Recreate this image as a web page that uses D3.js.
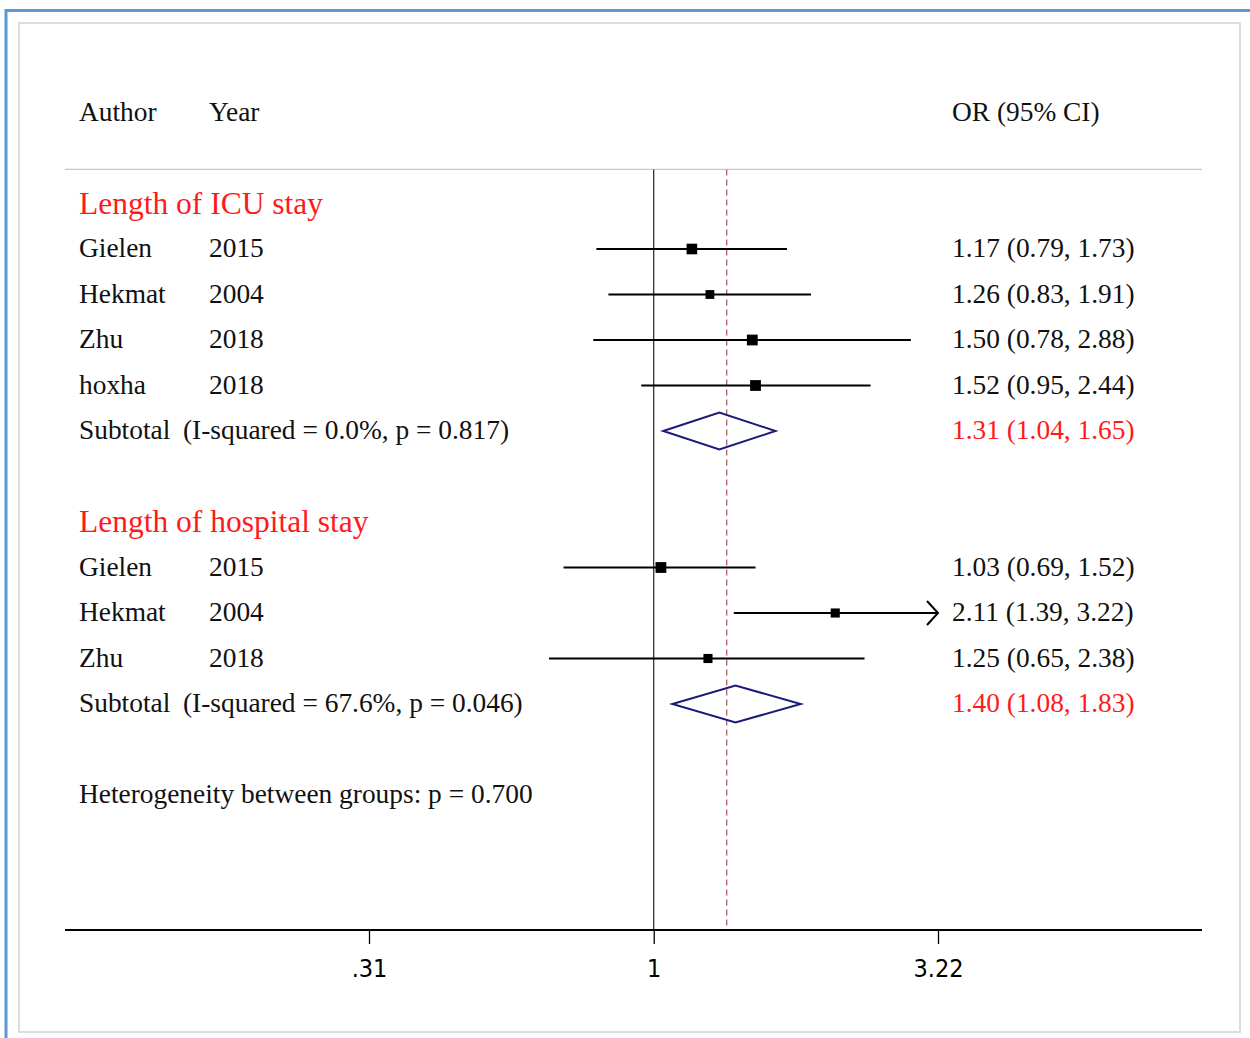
<!DOCTYPE html>
<html>
<head>
<meta charset="utf-8">
<script src="https://cdn.jsdelivr.net/npm/d3@7"></script>
<style>
  html, body { margin: 0; padding: 0; background: #fff; }
  svg { display: block; }
  .serif { font-family: "Liberation Serif", "DejaVu Serif", serif; }
  .tick text { font-family: "Liberation Sans Narrow", "DejaVu Sans Condensed", "Liberation Sans", sans-serif; }
</style>
</head>
<body>
<svg id="chart" width="1250" height="1038"></svg>
<script>
// ---- data ----
const groupTitles = ["Length of ICU stay", "Length of hospital stay"];

const authors = ["Gielen", "Hekmat", "Zhu", "hoxha", "Gielen", "Hekmat", "Zhu"];
const years   = [2015, 2004, 2018, 2018, 2015, 2004, 2018];
const groupOf = [0, 0, 0, 0, 1, 1, 1];
const orValues = [1.17, 1.26, 1.50, 1.52, 1.03, 2.11, 1.25];
const ciLower  = [0.79, 0.83, 0.78, 0.95, 0.69, 1.39, 0.65];
const ciUpper  = [1.73, 1.91, 2.88, 2.44, 1.52, 3.22, 2.38];
const weights  = [16.0, 11.0, 16.5, 16.5, 16.5, 11.75, 11.75]; // % weight, sets box area

const subtotalOR    = [1.31, 1.40];
const subtotalLower = [1.04, 1.08];
const subtotalUpper = [1.65, 1.83];
const subtotalI2    = ["0.0%", "67.6%"];
const subtotalP     = ["0.817", "0.046"];

const overallOR = 1.35;
const heterogeneityP = "0.700";

const tickValues = [0.31, 1, 3.22];
const tickLabels = [".31", "1", "3.22"];

// ---- layout ----
const svg = d3.select("#chart");
const W = 1250, H = 1038;

const x = d3.scaleLog().domain([0.31, 3.22]).range([369, 938]);
const row = d3.scaleLinear().domain([0, 12]).range([249, 795]);
const box = d3.scaleSqrt().domain([0, d3.max(weights)]).range([0, 10.8]);
const fmt = d3.format(".2f");

const plotLeft = 65, plotRight = 1202;
const axisY = 930;
const colAuthor = 79, colYear = 209, colSubStats = 183, colEst = 952;
const textDy = 8;
const red = "#ff1a1a";
const bodySize = 27.4, headSize = 31.5;

// page frame
svg.append("rect").attr("x", 19).attr("y", 23).attr("width", 1221).attr("height", 1009)
  .attr("fill", "#fff").attr("stroke", "#dcdcdc").attr("stroke-width", 2);
svg.append("line").attr("x1", 6).attr("x2", 6).attr("y1", 9).attr("y2", H)
  .attr("stroke", "#5b9bd5").attr("stroke-width", 3);
svg.append("line").attr("x1", 5).attr("x2", W).attr("y1", 10.5).attr("y2", 10.5)
  .attr("stroke", "#5b9bd5").attr("stroke-width", 3);

// row positions: header at -3, group headings, studies, subtotals
const studyRow = [0, 1, 2, 3, 7, 8, 9];
const headingRow = [-1, 6];
const subtotalRow = [4, 10];
const heteroRow = 12;
const headerRow = -3;
const headerLineY = row(-1.75);

const g = svg.append("g");
const t = g.append("g").attr("class", "serif");

// column headers
const hdr = t.append("g").attr("font-size", bodySize).attr("fill", "#111");
hdr.append("text").attr("x", colAuthor).attr("y", row(headerRow) + textDy).text("Author");
hdr.append("text").attr("x", colYear).attr("y", row(headerRow) + textDy).text("Year");
hdr.append("text").attr("x", colEst).attr("y", row(headerRow) + textDy).text("OR (95% CI)");

// header rule
g.append("line").attr("x1", plotLeft).attr("x2", plotRight)
  .attr("y1", headerLineY).attr("y2", headerLineY)
  .attr("stroke", "#c8c8c8").attr("stroke-width", 1.2);

// null line at OR = 1
g.append("line").attr("x1", x(1)).attr("x2", x(1))
  .attr("y1", headerLineY).attr("y2", axisY)
  .attr("stroke", "#222").attr("stroke-width", 1.2);

// overall estimate (dashed)
g.append("line").attr("x1", x(overallOR)).attr("x2", x(overallOR))
  .attr("y1", headerLineY).attr("y2", axisY)
  .attr("stroke", "#b0606a").attr("stroke-width", 1.3)
  .attr("stroke-dasharray", "6,4");

// group headings
t.selectAll("text.heading").data(groupTitles).join("text")
  .attr("class", "heading")
  .attr("x", colAuthor).attr("y", (d, i) => row(headingRow[i]) + 10)
  .attr("font-size", headSize).attr("fill", red)
  .text(d => d);

// study rows
const studies = authors.map((a, i) => ({
  author: a, year: years[i], or: orValues[i], lo: ciLower[i], hi: ciUpper[i],
  w: weights[i], r: studyRow[i]
}));

const xMin = d3.min(tickValues), xMax = d3.max(tickValues);

const sg = g.selectAll("g.study").data(studies).join("g").attr("class", "study serif");
sg.append("text").attr("x", colAuthor).attr("y", d => row(d.r) + textDy)
  .attr("font-size", bodySize).attr("fill", "#111").text(d => d.author);
sg.append("text").attr("x", colYear).attr("y", d => row(d.r) + textDy)
  .attr("font-size", bodySize).attr("fill", "#111").text(d => d.year);
sg.append("text").attr("x", colEst).attr("y", d => row(d.r) + textDy)
  .attr("font-size", bodySize).attr("fill", "#111")
  .text(d => `${fmt(d.or)} (${fmt(d.lo)}, ${fmt(d.hi)})`);

// confidence intervals (clipped to the axis range, arrow when clipped)
sg.append("line")
  .attr("x1", d => x(Math.max(d.lo, xMin))).attr("x2", d => x(Math.min(d.hi, xMax)))
  .attr("y1", d => row(d.r)).attr("y2", d => row(d.r))
  .attr("stroke", "#000").attr("stroke-width", 2);
sg.filter(d => d.hi >= xMax).append("path")
  .attr("d", d => {
    const tx = x(xMax), ty = row(d.r);
    return `M${tx - 11},${ty - 12}L${tx},${ty}L${tx - 11},${ty + 12}`;
  })
  .attr("fill", "none").attr("stroke", "#000").attr("stroke-width", 2);

// weight boxes
sg.append("rect")
  .attr("x", d => x(d.or) - box(d.w) / 2).attr("y", d => row(d.r) - box(d.w) / 2)
  .attr("width", d => box(d.w)).attr("height", d => box(d.w))
  .attr("fill", "#000");

// subtotals
const subs = subtotalOR.map((v, i) => ({
  or: v, lo: subtotalLower[i], hi: subtotalUpper[i], i2: subtotalI2[i], p: subtotalP[i],
  r: subtotalRow[i]
}));
const subG = g.selectAll("g.sub").data(subs).join("g").attr("class", "sub serif");
subG.append("text").attr("x", colAuthor).attr("y", d => row(d.r) + textDy)
  .attr("font-size", bodySize).attr("fill", "#111").text("Subtotal");
subG.append("text").attr("x", colSubStats).attr("y", d => row(d.r) + textDy)
  .attr("font-size", bodySize).attr("fill", "#111")
  .text(d => `(I-squared = ${d.i2}, p = ${d.p})`);
subG.append("text").attr("x", colEst).attr("y", d => row(d.r) + textDy)
  .attr("font-size", bodySize).attr("fill", red)
  .text(d => `${fmt(d.or)} (${fmt(d.lo)}, ${fmt(d.hi)})`);
subG.append("path")
  .attr("d", d => {
    const cy = row(d.r), hh = 18.5;
    return `M${x(d.lo)},${cy}L${x(d.or)},${cy - hh}L${x(d.hi)},${cy}L${x(d.or)},${cy + hh}Z`;
  })
  .attr("fill", "none").attr("stroke", "#1a1a7a").attr("stroke-width", 2);

// heterogeneity note
t.append("text").attr("x", colAuthor).attr("y", row(heteroRow) + textDy)
  .attr("font-size", bodySize).attr("fill", "#111")
  .text(`Heterogeneity between groups: p = ${heterogeneityP}`);

// x axis
g.append("line").attr("x1", plotLeft).attr("x2", plotRight)
  .attr("y1", axisY).attr("y2", axisY)
  .attr("stroke", "#000").attr("stroke-width", 2);
const axis = d3.axisBottom(x).tickValues(tickValues)
  .tickFormat((d, i) => tickLabels[i]).tickSize(14).tickPadding(15);
const ax = g.append("g").attr("transform", `translate(0,${axisY})`).call(axis);
ax.attr("font-family", null).attr("font-size", null);
ax.select(".domain").remove();
ax.selectAll(".tick line").attr("stroke", "#000").attr("stroke-width", 1.3);
ax.selectAll(".tick text").style("font-size", "25px").attr("fill", "#000");
</script>
</body>
</html>
